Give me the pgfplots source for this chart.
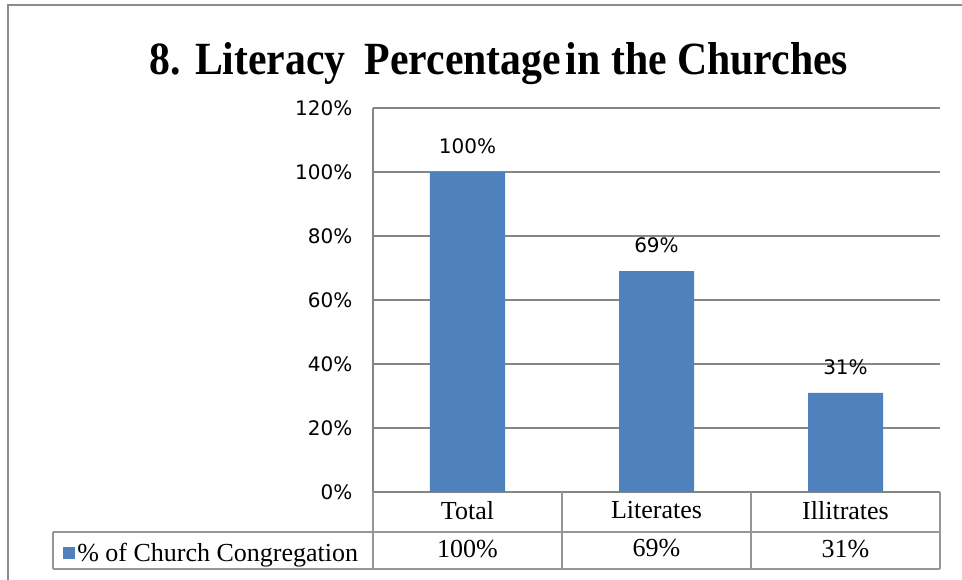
\documentclass[border=0pt]{standalone}
\usepackage{pgfplots}
\pgfplotsset{compat=1.18}
\usepackage{fontspec}
\setmainfont{Liberation Serif}
\newfontfamily\dejavu{DejaVu Sans}
\definecolor{barblue}{RGB}{79,129,189}
\definecolor{gridgray}{RGB}{134,134,134}
\definecolor{tablegray}{RGB}{150,150,150}
\definecolor{framegray}{RGB}{140,140,140}
\pgfplotstableread{
x y
0 100
1 69
2 31
}\datatable
\begin{document}
\begin{tikzpicture}
\path[use as bounding box] (-279.75pt,-65.25pt) rectangle (441.75pt,369pt);
\clip (-279.75pt,-65.25pt) rectangle (441.75pt,369pt);
\draw[framegray, line width=1.6pt] (-273.75pt,365.25pt) rectangle (520pt,-120pt);
\node[anchor=base, inner sep=0pt] at (94.5pt,312.75pt)
  {\resizebox{523.5pt}{24pt}{\bfseries 8. Literacy\hspace{0.45em}Percentage\hspace{0.12em}in the Churches}};
\begin{axis}[
  name=ax,
  at={(0,0)}, anchor=south west,
  scale only axis,
  width=425.25pt, height=288pt,
  ybar, bar width=56.25pt,
  xmin=-0.5, xmax=2.5,
  ymin=0, ymax=120,
  ytick={0,20,...,120},
  yticklabel={\pgfmathprintnumber{\tick}\%},
  /pgf/number format/assume math mode=true,
  xtick={0,1,2},
  xticklabels={{Total\\100\%},{Literates\\69\%},{Illitrates\\31\%}},
  xticklabel style={font=\fontsize{19.5}{28.5}\selectfont, align=center, anchor=north, yshift=-3.5pt},
  yticklabel style={font=\dejavu\fontsize{15}{17}\selectfont, xshift=-12pt},
  major tick length=0pt,
  axis x line=bottom, axis y line=left,
  axis line style={-, draw=gridgray, line width=1pt},
  ymajorgrids,
  grid style={draw=gridgray, line width=1pt},
  nodes near coords={\pgfmathprintnumber{\pgfplotspointmeta}\%},
  every node near coord/.append style={font=\dejavu\fontsize{15}{17}\selectfont, anchor=base, yshift=14pt, text=black},
  legend style={at={(axis description cs:0,0)}, anchor=west, xshift=-233pt, yshift=-46pt,
    draw=none, fill=none, inner sep=0pt, font=\fontsize{19.5}{21}\selectfont, legend cell align=left},
  legend image code/.code={\fill[barblue] (0pt,-4.5pt) rectangle (9pt,4.5pt);},
  clip=false,
]
\addplot[fill=barblue, draw=none] table[x=x, y=y] {\datatable};
\addlegendentry{\% of Church Congregation}
\end{axis}
\begin{scope}[tablegray, line width=1pt]
\draw (ax.south west) ++(-240pt,-30pt) -- ++(665.25pt,0pt);
\draw (ax.south west) ++(-240pt,-57.75pt) -- ++(665.25pt,0pt);
\draw (ax.south west) ++(-240pt,-30pt) -- ++(0pt,-27.75pt);
\draw (ax.south west) -- ++(0pt,-57.75pt);
\draw (ax.south west) ++(141.75pt,0pt) -- ++(0pt,-57.75pt);
\draw (ax.south west) ++(283.5pt,0pt) -- ++(0pt,-57.75pt);
\draw (ax.south east) -- ++(0pt,-57.75pt);
\end{scope}
\end{tikzpicture}
\end{document}
